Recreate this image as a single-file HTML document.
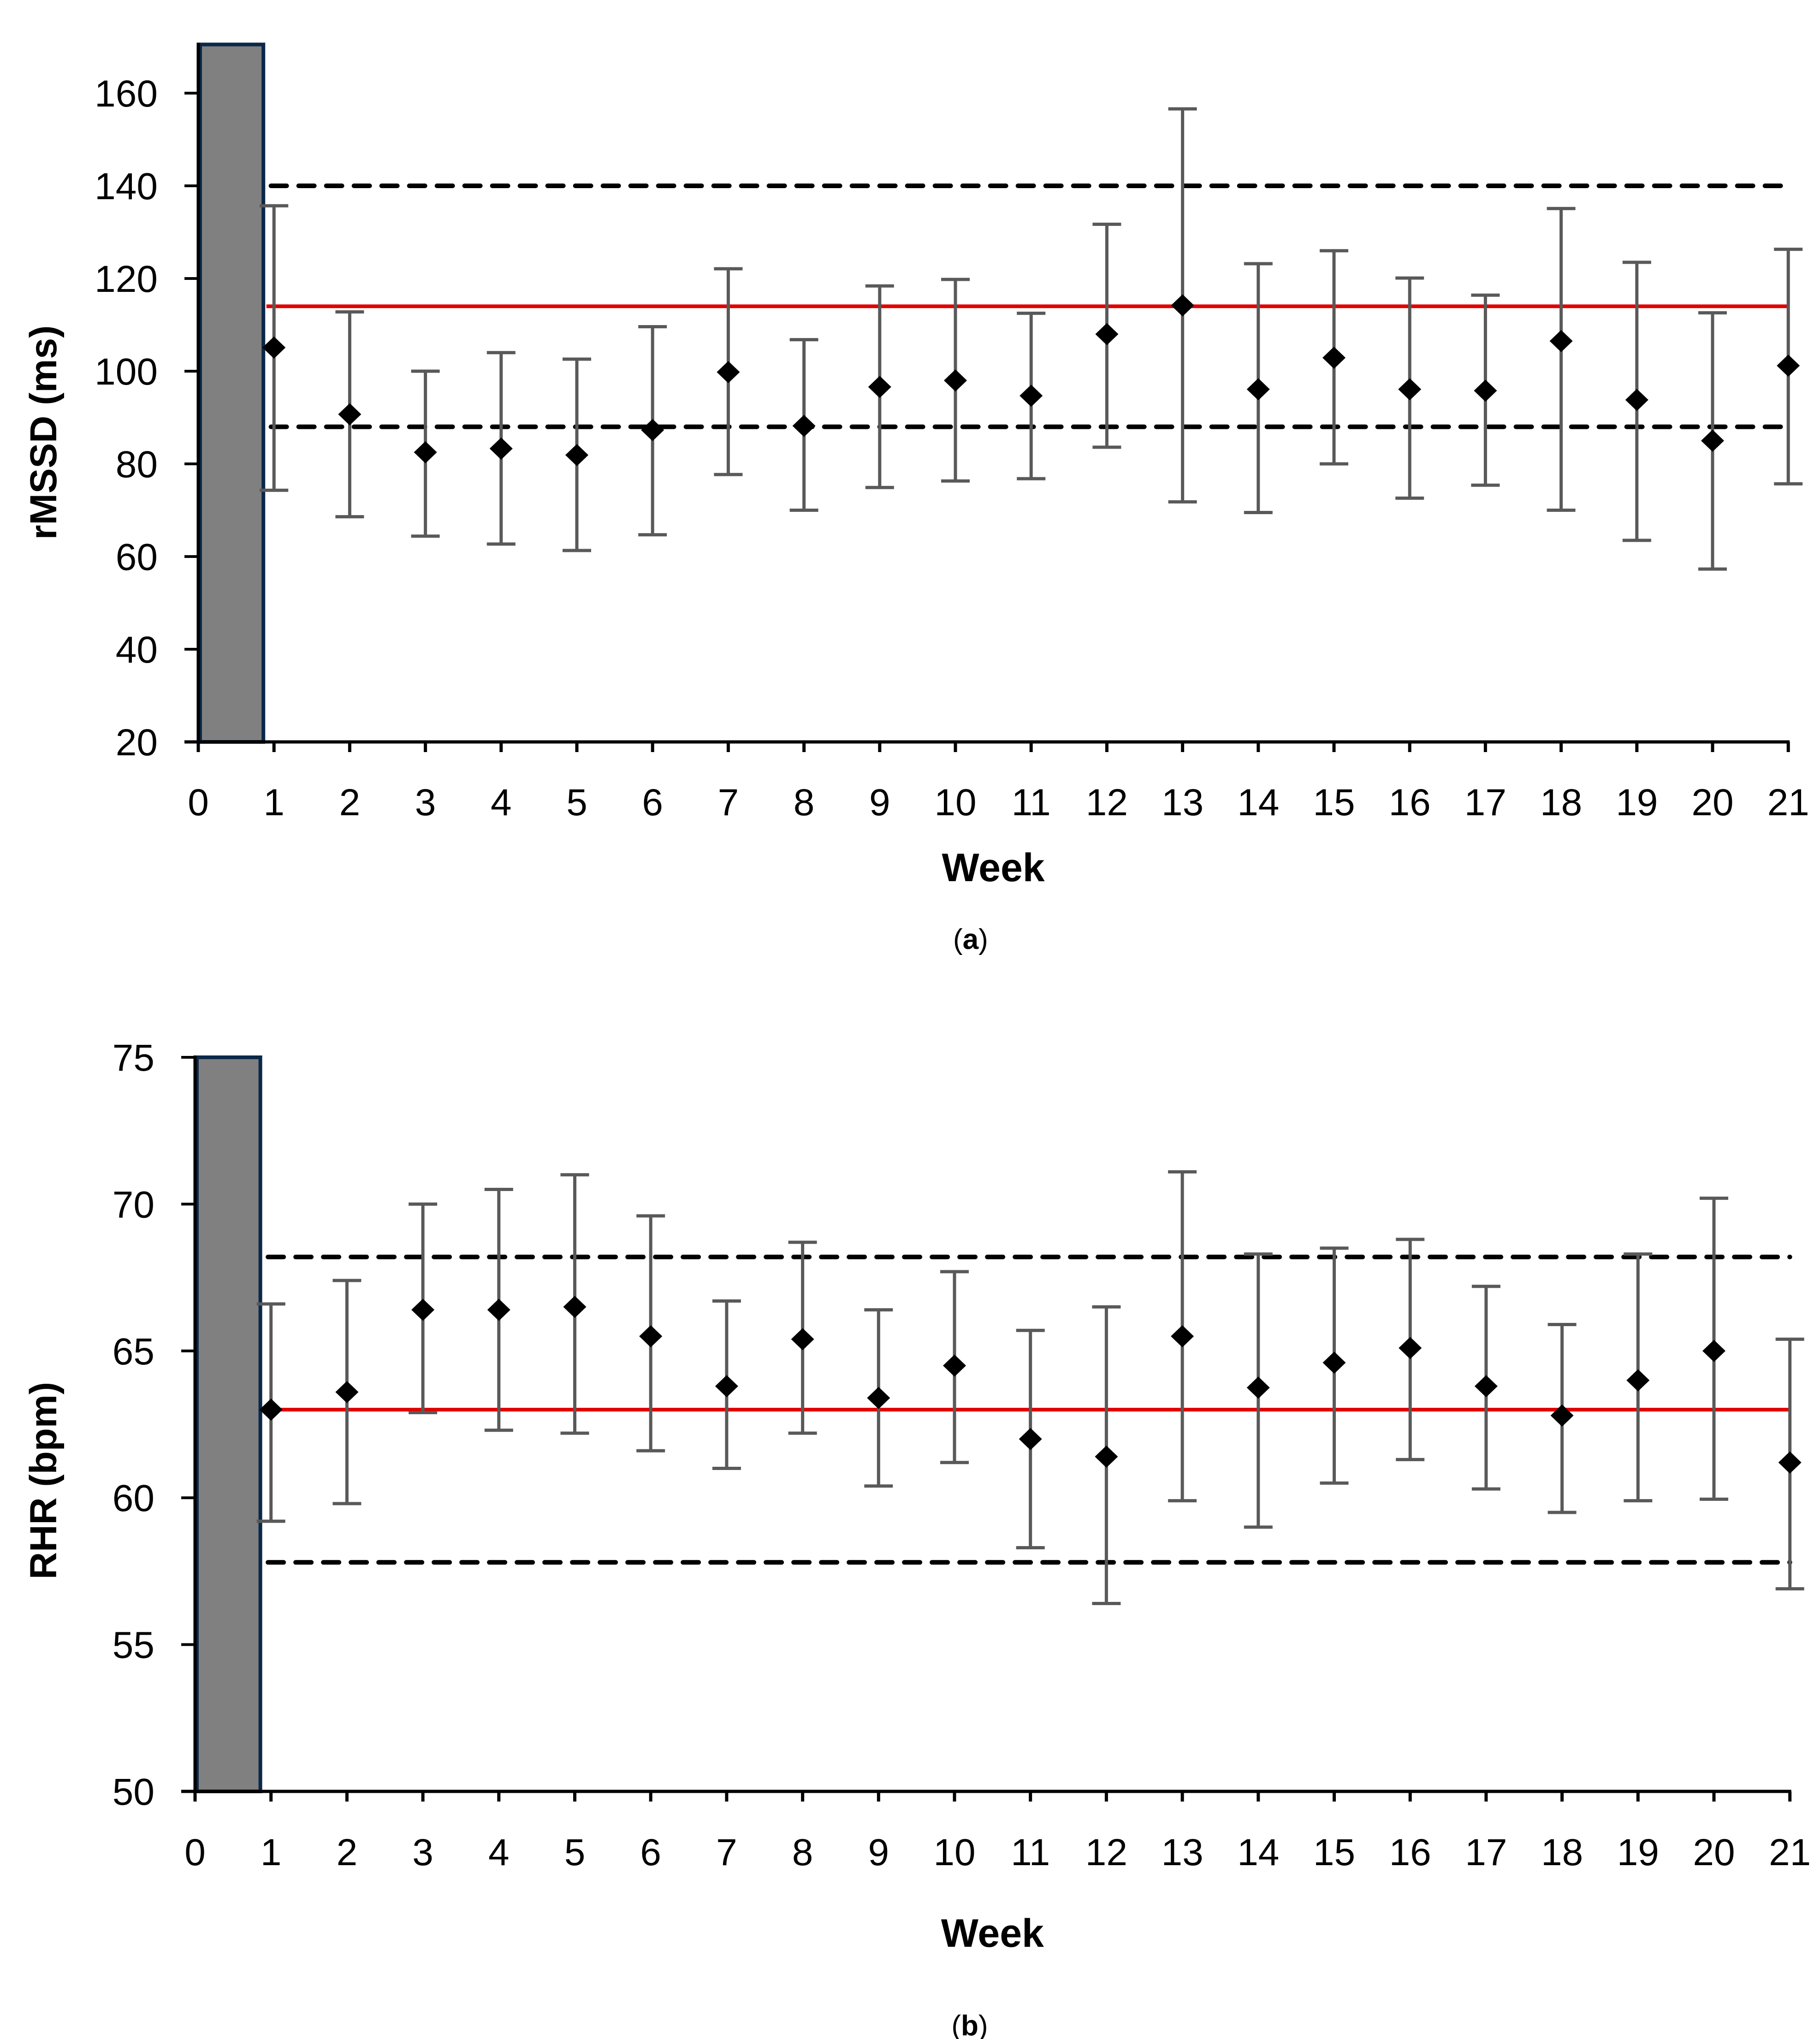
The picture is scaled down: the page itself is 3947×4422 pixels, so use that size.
<!DOCTYPE html>
<html><head><meta charset="utf-8"><style>
html,body{margin:0;padding:0;background:#fff;}
svg{display:block;}
text{font-family:"Liberation Sans",sans-serif;fill:#000;}
</style></head><body>
<svg id="fig" width="3947" height="4422" viewBox="0 0 3947 4422" xmlns="http://www.w3.org/2000/svg"></svg>
<script>
const weeks=[1,2,3,4,5,6,7,8,9,10,11,12,13,14,15,16,17,18,19,20,21];
const xTicks=[0,1,2,3,4,5,6,7,8,9,10,11,12,13,14,15,16,17,18,19,20,21];
const rmssdMean=[105.1,90.7,82.5,83.3,81.9,87.3,99.8,88.2,96.6,98,94.7,108,114.2,96.1,102.9,96.1,95.8,106.5,93.8,85,101.2];
const rmssdHi=[135.7,112.8,100,104,102.6,109.6,122.1,106.8,118.4,119.8,112.5,131.7,156.6,123.2,126,120.1,116.4,135.1,123.5,112.6,126.3];
const rmssdLo=[74.3,68.6,64.4,62.7,61.3,64.7,77.7,70,74.9,76.3,76.8,83.6,71.8,69.5,80,72.6,75.4,70,63.5,57.3,75.7];
const rmssdTicks=[20,40,60,80,100,120,140,160];
const rmssdRef=[114,140,88];
const rhrMean=[63,63.6,66.4,66.4,66.5,65.5,63.8,65.4,63.4,64.5,62,61.4,65.5,63.75,64.6,65.1,63.8,62.8,64,65,61.2];
const rhrHi=[66.6,67.4,70,70.5,71,69.6,66.7,68.7,66.4,67.7,65.7,66.5,71.1,68.3,68.5,68.8,67.2,65.9,68.3,70.2,65.4];
const rhrLo=[59.2,59.8,62.9,62.3,62.2,61.6,61,62.2,60.4,61.2,58.3,56.4,59.9,59,60.5,61.3,60.3,59.5,59.9,59.95,56.9];
const rhrTicks=[50,55,60,65,70,75];
const rhrRef=[63,68.2,57.8];

const NS="http://www.w3.org/2000/svg";
const svg=document.getElementById('fig');
function el(tag,attrs,parent,txt){const e=document.createElementNS(NS,tag);for(const k in attrs)e.setAttribute(k,attrs[k]);if(txt!==undefined)e.textContent=txt;(parent||svg).appendChild(e);return e;}

function chart(o){
  const g=el('g',{});
  
  
  const X=w=>o.x0+w*o.step;
  const Y=v=>o.yB+(v-o.vMin)*(o.yT-o.yB)/(o.vMax-o.vMin);
  const bar=el('rect',{x:X(0)+4,y:Y(o.barTop),width:X(0.86)-X(0)-4,height:Y(o.vMin)-Y(o.barTop),fill:'#808080',stroke:'#0b2849','stroke-width':8},g);
  
  
  const ya=el('line',{x1:X(0),y1:Y(o.barTop)-4,x2:X(0),y2:Y(o.vMin),stroke:'#000','stroke-width':7},g);
  
  
  const xa=el('line',{x1:X(0)-30,y1:Y(o.vMin),x2:X(21)+3,y2:Y(o.vMin),stroke:'#000','stroke-width':7},g);
  
  
  o.yTicks.forEach(t=>{
    el('line',{x1:X(0)-30,y1:Y(t),x2:X(0),y2:Y(t),stroke:'#000','stroke-width':6},g);
    const tl=el('text',{x:X(0)-88,y:Y(t)+29,'font-size':82,'text-anchor':'end'},g,t);
    
    
  });
  xTicks.forEach(t=>{
    el('line',{x1:X(t),y1:Y(o.vMin),x2:X(t),y2:Y(o.vMin)+22,stroke:'#000','stroke-width':7},g);
    const tl=el('text',{x:X(t),y:o.xLabY+6,'font-size':82,'text-anchor':'middle'},g,t);
    
    
  });
  const m=el('line',{x1:X(0.9),y1:Y(o.ref[0]),x2:X(21),y2:Y(o.ref[0]),stroke:'#e00000','stroke-width':8},g);
  
  
  [o.ref[1],o.ref[2]].forEach(v=>{
    const d=el('line',{x1:X(0.96),y1:Y(v),x2:X(21),y2:Y(v),stroke:'#000','stroke-width':10,'stroke-dasharray':'34 26','stroke-linecap':'round'},g);
    
    
  });
  weeks.forEach((w,i)=>{
    const x=X(w);
    const eb=el('g',{stroke:'#595959','stroke-width':7},g);
    
    
    el('line',{x1:x,y1:Y(o.hi[i]),x2:x,y2:Y(o.lo[i])},eb);
    el('line',{x1:x-31,y1:Y(o.hi[i]),x2:x+31,y2:Y(o.hi[i])},eb);
    el('line',{x1:x-31,y1:Y(o.lo[i]),x2:x+31,y2:Y(o.lo[i])},eb);
  });
  weeks.forEach((w,i)=>{
    const x=X(w),y=Y(o.mean[i]);
    const p=el('polygon',{points:`${x-25},${y} ${x},${y-24} ${x+25},${y} ${x},${y+24}`,fill:'#000'},g);
    
    
  });
  const xt=el('text',{x:X(10.5),y:o.weekY+6,'font-size':86,'font-weight':'bold','text-anchor':'middle'},g,'Week');
  
  
  const yt=el('text',{x:0,y:0,'font-size':82,'font-weight':'bold','text-anchor':'middle',transform:`translate(122,${o.yTitleY}) rotate(-90)`},g,o.yTitle);
  
  
  const cap=el('text',{x:X(10.2),y:o.capY,'font-size':62,'text-anchor':'middle','font-family':'Liberation Serif, serif'},g,'');
  
  
  el('tspan',{},cap,'(');
  el('tspan',{'font-weight':'bold'},cap,o.cap);
  el('tspan',{},cap,')');
}
chart({name:'rmssd-chart',x0:430,step:164.2,yB:1609,yT:202,vMin:20,vMax:160,barTop:170.5,
  yTicks:rmssdTicks,mean:rmssdMean,hi:rmssdHi,lo:rmssdLo,ref:rmssdRef,
  xLabY:1762,weekY:1905,yTitle:'rMSSD (ms)',yTitleY:938,capY:2058,cap:'a'});
chart({name:'rhr-chart',x0:423,step:164.7,yB:3885,yT:2293,vMin:50,vMax:75,barTop:75,
  yTicks:rhrTicks,mean:rhrMean,hi:rhrHi,lo:rhrLo,ref:rhrRef,
  xLabY:4039,weekY:4216,yTitle:'RHR (bpm)',yTitleY:3211,capY:4414,cap:'b'});
</script>
</body></html>
